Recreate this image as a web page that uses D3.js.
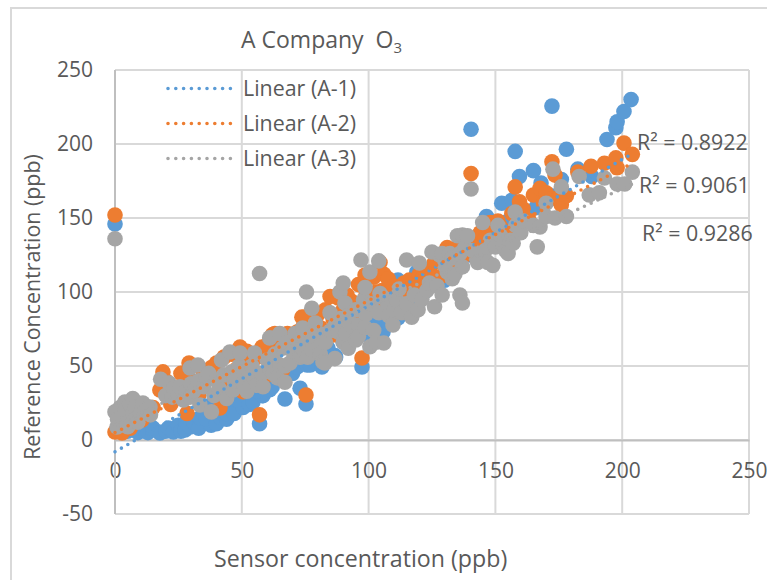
<!DOCTYPE html>
<html lang="en">
  <head>
    <meta charset="utf-8">
    <script src="https://d3js.org/d3.v7.min.js"></script>
    <title>A Company O3</title>
  </head>
  <body style="margin:0;background:#fff;">
  <script type="text/javascript">

    // Values: [sensor, reference]
    var a1 = [[0,146],[2,8],[5,6],[9,5],[12,6],[13,5],[15,8],[17.7,4.7],[20,6],[21,8],[23,5.4],[25,10],[26,6],[27.6,6.8],[28,12],[29.6,8.8],[31,12],[33,8],[33.5,15],[35,18],[37.9,10],[36,14],[38,24],[40,11],[41.4,15.5],[40,20],[42,26],[44,14],[44,18],[44,30],[46.5,25],[47,18],[47,32],[50.5,22],[48,27],[52,35],[53,24],[54.4,25.7],[55,38],[57,11],[58,30],[58.4,30],[56,33],[60,42],[61,34],[62,36],[64,48],[67,27.7],[66,42],[68,46],[70,45],[72,52],[73,35],[75.3,24.3],[71.8,49.3],[75.7,50.7],[77,50.7],[81.6,49.3],[81.6,52],[87,56],[86.7,57],[84,62],[90,66],[97.4,49.3],[95,70],[100.5,69],[101,69],[105,75.7],[105.7,73],[103,80],[108,78],[111.6,82.5],[111.6,108],[117,94.6],[115,90],[119,113.5],[122,100],[125,105],[130,108],[135,118],[140,125],[140.4,210],[146.5,151],[145,128],[150,138],[152.5,160],[156.5,162],[155,148],[157.8,195],[159.5,178],[160,150],[165,182],[166,157],[168,173.6],[172,165],[172.3,225.6],[176,176],[178,196.5],[182.5,183],[188,178],[194,203],[197.5,211],[198,215],[200.7,222],[203.5,230]];
    var a2 = [[0,152],[0,5.4],[2.8,4.7],[6,8],[10.6,13.5],[15,22],[17.7,33.8],[18.9,46],[20,40],[22,24],[24,34],[26,45],[28.4,18],[29.2,52],[30,40],[33,30],[35,45],[38,49],[40,52],[41.4,21.6],[43,56],[44,38],[46,58],[48,48],[49.3,62.8],[50.5,32.6],[52,60],[53,54],[56,56],[57,17],[58,62.8],[60,44],[60,64],[62,71],[63,72],[64,68],[66,47],[67.8,67.6],[68,72],[70,66],[71.8,73],[73.7,83],[74,76],[75,83],[75.3,30.4],[77,72],[78,65],[80,85],[80.8,76],[83,88],[84.8,97],[86,71],[86,82],[88,96],[90,88],[91.5,98],[93,94],[94,86],[96,105],[97.4,55.4],[98.6,111.5],[99,98],[100.5,88],[102,110],[103,100],[104.5,120],[105.3,101],[105.7,88],[106,112],[107.7,109],[109,86],[110,104],[112,98],[113,100],[114,106],[116,108],[119,107],[120,112],[122,104],[124,115],[126,110],[126,120],[128,125],[129,111],[130,122],[131,130],[133,118],[134,126],[135,130],[137,134],[138,125],[140.4,180],[141,136],[143,130],[144,140],[146,136],[148,147],[149,142],[151,148],[152,144],[154,140.5],[156.5,153],[157.8,171],[158,152],[159.5,161],[161,156],[163,150],[165,165.5],[167.6,170],[169,160],[170,167],[172,163],[172.3,188],[173.5,179],[175,164],[176,159],[178,165],[182.5,181],[187.7,185],[193,187],[197.5,190.6],[198,184],[200.7,200.6],[204,193]];
    var a3 = [[0,136],[0,19],[0.8,8.8],[1,14],[2,22],[3,15.5],[3.9,25.7],[4,20],[5,12],[5,9],[6,24],[7,18],[7,28],[8,22],[8,14],[9,12],[10,18],[11,25],[12,20],[13.8,22.3],[14,17],[18,41],[20,30],[21.3,38.5],[22.5,29],[23,35],[25,30],[25.6,36],[27,27],[28,33],[29.6,29],[29.6,48.6],[30,38],[31,33],[32.7,50.7],[33,40],[33.5,23.6],[35,36],[36,42.6],[37,45],[38,19],[39,30],[40,40.5],[41,35],[42,54],[43,44],[44,28],[45.3,59.5],[46,46],[46.5,33.8],[47,40],[49,50],[49.3,58.8],[50.5,38.5],[51,45],[52,33],[53,45],[54,50],[55,58.8],[55,42],[56,37],[57,112.5],[58,45],[58.4,36],[60,54],[61,69],[61,48],[62.3,45],[63,58],[64,42],[65,72],[65,50.7],[66,62],[67,39],[67,50],[68,66],[69,52],[70,60],[71,72],[71.8,72],[72,65],[73,56],[73.7,57],[74,75.6],[74,62],[75,68],[75.5,100],[76,56],[77.6,60.8],[77.6,89],[78,70],[79,79],[80,72],[80.8,63],[81,58],[82,52.7],[82.8,52],[83,66],[84.8,86],[85,74],[86.7,55],[87,78],[88,73],[88.7,100],[89,82],[90,106],[90,66],[90.7,92.6],[91,72],[92,62],[92,84],[93,78],[95,67.6],[95,88],[96,77.7],[96,70],[97,121.6],[98,94.6],[98.6,103],[98.6,76],[99,85],[100.5,113.5],[100.5,63],[101,92],[102,74],[103,66],[104,121],[104,86],[104.5,99],[106,65.5],[106,96],[107.7,91],[108,84],[109.6,77.7],[110,88],[111,94.6],[112,102],[113,86],[115,121.6],[115,92],[117,83],[118,98],[119.5,88],[120,119.6],[121,95],[123,101],[124,106],[125,127],[126,90],[127,104],[128,125],[129,98],[129,126],[130,118],[131,113.5],[132,126],[133,109],[133,123],[134,112],[135,138],[136,98],[136,126],[137,92.6],[137,117],[137,138.5],[138,130],[139,138],[140.4,169.6],[141,128],[143,120],[145,147],[146,128],[147,120],[148,135],[149,118],[150,130.5],[151,145],[152,138],[153,132],[154,128],[155,126],[156,135],[157,133],[157.8,154],[158,145],[160,140],[161,148],[165,145],[166.5,130.5],[167.6,144],[170,160],[170,151],[172.7,183],[173.5,150],[176,171],[178,151],[183,178],[187,165.6],[191,167],[193,177],[198,173],[201,173],[204,181]];

    // Trendline end points
    var trend1 = [[0,-8],[203.5,193]];
    var trend2 = [[0,5],[204,187]];
    var trend3 = [[0,10],[204,173]];

    var seriesColors = ["#5b9bd5", "#ed7d31", "#a5a5a5"];
    var legendLabels = ["Linear (A-1)", "Linear (A-2)", "Linear (A-3)"];
    var r2Labels = ["R\u00b2 = 0.8922", "R\u00b2 = 0.9061", "R\u00b2 = 0.9286"];
    var xTicks = [0, 50, 100, 150, 200, 250];
    var yTicks = [-50, 0, 50, 100, 150, 200, 250];

    var width = 767;
    var height = 580;
    var textColor = "#595959";
    var fontFamily = "'Open Sans', sans-serif";

    var svg = d3.select("body").append("svg")
      .attr("width", width)
      .attr("height", height)
      .style("display", "block")
      .style("font-family", fontFamily);

    var x = d3.scaleLinear().domain([0, 250]).range([115, 749]);
    var y = d3.scaleLinear().domain([-50, 250]).range([514, 70]);

    // Frame around the chart, runs off the right and bottom of the picture
    svg.append("path")
      .attr("d", "M11,580V8H767")
      .attr("fill", "none")
      .attr("stroke", "#d9d9d9")
      .attr("stroke-width", 2);

    // Grid
    svg.append("g").selectAll("line").data(xTicks).enter().append("line")
      .attr("x1", function(d) { return x(d); })
      .attr("x2", function(d) { return x(d); })
      .attr("y1", y(250))
      .attr("y2", y(-50))
      .attr("stroke", "#d9d9d9")
      .attr("stroke-width", 2);

    svg.append("g").selectAll("line").data(yTicks).enter().append("line")
      .attr("x1", x(0))
      .attr("x2", x(250))
      .attr("y1", function(d) { return y(d); })
      .attr("y2", function(d) { return y(d); })
      .attr("stroke", "#d9d9d9")
      .attr("stroke-width", 2);

    // Axis lines cross at zero, tick labels sit apart from them
    var xAxis = svg.append("g")
      .attr("transform", "translate(0," + y(0) + ")")
      .call(d3.axisBottom(x).tickValues(xTicks).tickSize(0).tickPadding(23));

    var yAxis = svg.append("g")
      .attr("transform", "translate(" + x(0) + ",0)")
      .call(d3.axisLeft(y).tickValues(yTicks).tickSize(0).tickPadding(22)
        .tickFormat(function(d) { return String(d); }));

    [xAxis, yAxis].forEach(function(axis) {
      axis.select(".domain").attr("stroke", "#bfbfbf").attr("stroke-width", 2);
      axis.selectAll("text")
        .attr("fill", textColor)
        .style("font-family", fontFamily)
        .style("font-size", "21px");
    });
    yAxis.select(".domain").attr("d", "M0," + y(250) + "V" + y(-50));

    // Markers, one series over the other
    [a1, a2, a3].forEach(function(points, i) {
      svg.append("g").selectAll("circle").data(points).enter().append("circle")
        .attr("cx", function(d) { return x(d[0]); })
        .attr("cy", function(d) { return y(d[1]); })
        .attr("r", 7.8)
        .attr("fill", seriesColors[i]);
    });

    // Trendlines
    var line = d3.line()
      .x(function(d) { return x(d[0]); })
      .y(function(d) { return y(d[1]); });

    [trend1, trend2, trend3].forEach(function(points, i) {
      svg.append("path")
        .attr("d", line(points))
        .attr("fill", "none")
        .attr("stroke", seriesColors[i])
        .attr("stroke-width", 3.6)
        .attr("stroke-linecap", "round")
        .attr("stroke-dasharray", "0,7.4");
    });

    // Legend
    var legend = svg.append("g").selectAll("g").data(legendLabels).enter().append("g")
      .attr("transform", function(d, i) { return "translate(0," + (88.5 + i * 35) + ")"; });

    legend.append("line")
      .attr("x1", 168)
      .attr("x2", 238)
      .attr("stroke", function(d, i) { return seriesColors[i]; })
      .attr("stroke-width", 3.6)
      .attr("stroke-linecap", "round")
      .attr("stroke-dasharray", "0,7.8");

    legend.append("text")
      .attr("x", 243)
      .attr("dy", "0.35em")
      .attr("fill", textColor)
      .style("font-size", "21.4px")
      .text(function(d) { return d; });

    // R squared labels
    var r2Pos = [[637, 143], [639, 186], [642, 234]];
    svg.append("g").selectAll("text").data(r2Labels).enter().append("text")
      .attr("x", function(d, i) { return r2Pos[i][0]; })
      .attr("y", function(d, i) { return r2Pos[i][1]; })
      .attr("dy", "0.35em")
      .attr("fill", textColor)
      .style("font-size", "21.4px")
      .text(function(d) { return d; });

    // Title
    var title = svg.append("text")
      .attr("x", 241)
      .attr("y", 48)
      .attr("fill", textColor)
      .style("font-size", "23px");
    title.append("tspan").text("A Company \u00a0O");
    title.append("tspan").attr("dy", 5).style("font-size", "15px").text("3");

    // Axis titles
    svg.append("text")
      .attr("x", 214)
      .attr("y", 567)
      .attr("fill", textColor)
      .style("font-size", "23.2px")
      .text("Sensor concentration (ppb)");

    svg.append("text")
      .attr("transform", "translate(40,307) rotate(-90)")
      .attr("text-anchor", "middle")
      .attr("fill", textColor)
      .style("font-size", "21.4px")
      .text("Reference Concentration (ppb)");

  </script>
  </body>
</html>
